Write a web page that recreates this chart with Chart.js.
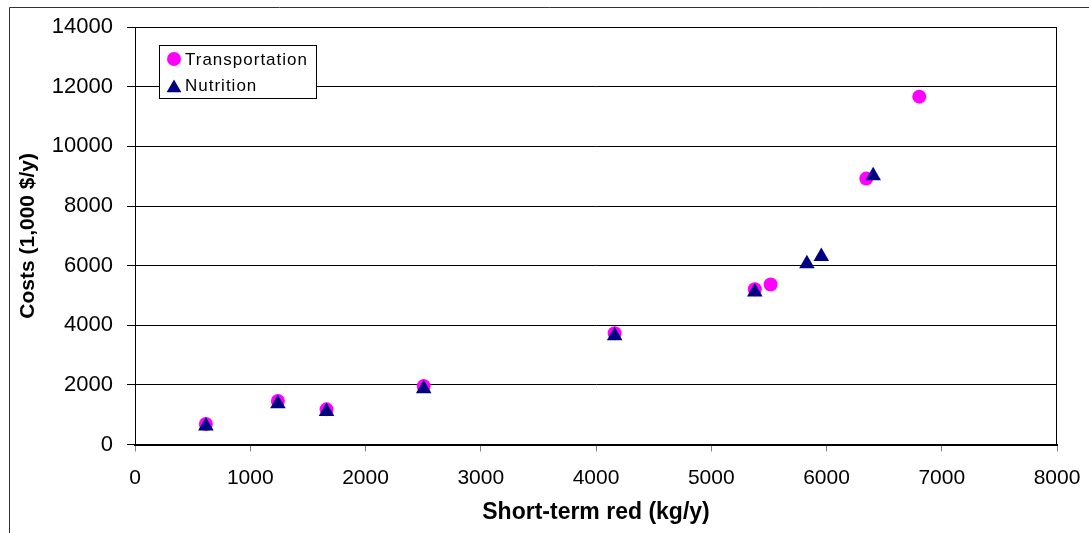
<!DOCTYPE html>
<html>
<head>
<meta charset="utf-8">
<title>Costs vs short-term reduction</title>
<script src="https://cdn.jsdelivr.net/npm/chart.js@4.4.1/dist/chart.umd.min.js"></script>
<style>
  html, body { margin: 0; padding: 0; background: #fff; }
  #wrap { width: 1089px; height: 533px; }
</style>
</head>
<body>
<div id="wrap"><canvas id="chart" width="1089" height="533"></canvas></div>
<script>
// values
const seriesNames = ["Transportation", "Nutrition"];
const transportX = [615, 1240, 1662, 2505, 4162, 5378, 5515, 6345, 6805];
const transportY = [690, 1460, 1180, 1960, 3730, 5210, 5370, 8920, 11670];
const nutritionX = [615, 1240, 1662, 2505, 4162, 5378, 5830, 5955, 6405];
const nutritionY = [620, 1370, 1110, 1870, 3650, 5120, 6060, 6310, 9020];
const xTickValues = [0, 1000, 2000, 3000, 4000, 5000, 6000, 7000, 8000];
const yTickValues = [0, 2000, 4000, 6000, 8000, 10000, 12000, 14000];
const xTitle = "Short-term red (kg/y)";
const yTitle = "Costs (1,000 $/y)";

const FONT = "'Liberation Sans', Arial, sans-serif";

function toPoints(xs, ys) {
  return xs.map((x, i) => ({ x: x, y: ys[i] }));
}

// plot frame, outer border and the boxed legend
const framePlugin = {
  id: "frame",
  beforeDatasetsDraw(chart) {
    const { ctx, chartArea: a } = chart;
    ctx.save();
    ctx.strokeStyle = "#000";
    ctx.lineWidth = 1;
    const l = Math.round(a.left) + 0.5, t = Math.round(a.top) + 0.5;
    const r = Math.round(a.right) - 0.5, b = Math.round(a.bottom) - 0.5;
    ctx.strokeRect(l, t, r - l, b - t);
    ctx.restore();
  },
  afterDraw(chart) {
    const ctx = chart.ctx;
    ctx.save();
    // outer border (only top and left visible)
    ctx.strokeStyle = "#333";
    ctx.lineWidth = 1;
    ctx.beginPath();
    ctx.moveTo(9.5, 533);
    ctx.lineTo(9.5, 7.5);
    ctx.lineTo(1089, 7.5);
    ctx.stroke();

    // legend box
    ctx.fillStyle = "#fff";
    ctx.fillRect(159, 45, 157, 53);
    ctx.strokeStyle = "#000";
    ctx.strokeRect(159.5, 45.5, 157, 53);

    const ds = chart.data.datasets;
    // circle marker
    ctx.fillStyle = ds[0].backgroundColor;
    ctx.beginPath();
    ctx.arc(174, 59, 7, 0, Math.PI * 2);
    ctx.fill();
    // triangle marker
    ctx.fillStyle = ds[1].backgroundColor;
    const tr = 8.5, tx = 174, ty = 88;
    ctx.beginPath();
    for (let k = 0; k < 3; k++) {
      const ang = k * 2 * Math.PI / 3;
      const px = tx + Math.sin(ang) * tr, py = ty - Math.cos(ang) * tr;
      if (k === 0) ctx.moveTo(px, py); else ctx.lineTo(px, py);
    }
    ctx.closePath();
    ctx.fill();

    ctx.fillStyle = "#000";
    ctx.font = "17px " + FONT;
    ctx.letterSpacing = "1px";
    ctx.textAlign = "left";
    ctx.textBaseline = "alphabetic";
    ctx.fillText(ds[0].label, 185, 64.5);
    ctx.fillText(ds[1].label, 185, 90.5);
    ctx.restore();
  }
};

new Chart(document.getElementById("chart"), {
  type: "scatter",
  data: {
    datasets: [
      {
        label: seriesNames[0],
        data: toPoints(transportX, transportY),
        backgroundColor: "#ff00ff",
        pointStyle: "circle",
        pointRadius: 7,
        pointBorderWidth: 0,
        order: 2
      },
      {
        label: seriesNames[1],
        data: toPoints(nutritionX, nutritionY),
        backgroundColor: "#000080",
        pointStyle: "triangle",
        pointRadius: 9,
        pointBorderWidth: 0,
        order: 1
      }
    ]
  },
  options: {
    responsive: false,
    animation: false,
    events: [],
    layout: { padding: { left: 0, top: 26, right: 32, bottom: 0 } },
    plugins: {
      legend: { display: false },
      tooltip: { enabled: false }
    },
    scales: {
      x: {
        type: "linear",
        min: 0,
        max: 8000,
        afterBuildTicks: s => { s.ticks = xTickValues.map(v => ({ value: v })); },
        afterFit: s => { s.height = 88.5; s.paddingRight = 0; },
        grid: { drawOnChartArea: false, tickLength: 7, tickColor: "#808080" },
        border: { display: true, color: "#000", width: 2 },
        ticks: {
          color: "#000", padding: 14, maxRotation: 0,
          font: { family: FONT, size: 21 },
          callback: v => String(v)
        },
        title: {
          display: true,
          text: xTitle,
          color: "#000",
          font: { family: FONT, size: 23, weight: "bold" },
          padding: { top: 0, bottom: 7 }
        }
      },
      y: {
        type: "linear",
        min: 0,
        max: 14000,
        afterBuildTicks: s => { s.ticks = yTickValues.map(v => ({ value: v })); },
        afterFit: s => { s.width = 135; },
        grid: { color: "#000", tickLength: 8, tickColor: "#000", lineWidth: 1 },
        border: { display: true, color: "#000", width: 1 },
        ticks: {
          color: "#000", padding: 14,
          font: { family: FONT, size: 22 },
          callback: v => String(v)
        },
        title: {
          display: true,
          text: yTitle,
          color: "#000",
          font: { family: FONT, size: 21, weight: "bold" },
          padding: { top: 16, bottom: 0 }
        }
      }
    }
  },
  plugins: [framePlugin]
});
</script>
</body>
</html>
